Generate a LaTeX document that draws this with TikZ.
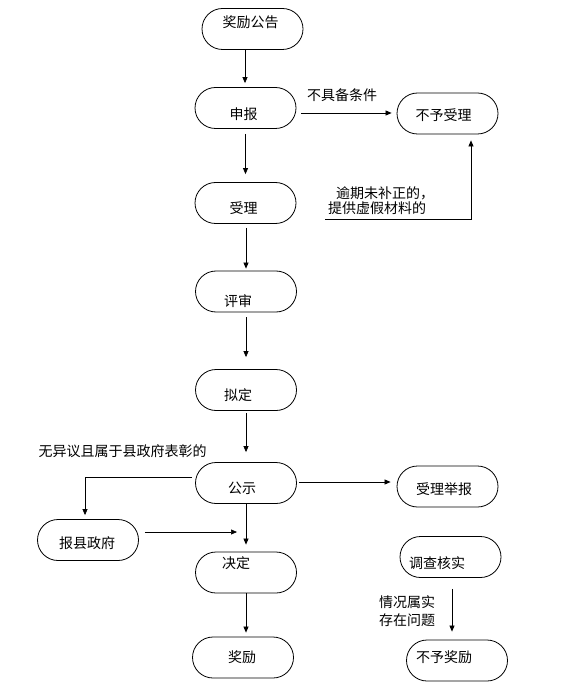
\documentclass[tikz,border=0pt]{standalone}
\usepackage{fontspec}
\newfontfamily\cjk{Noto Sans CJK SC}
\usetikzlibrary{shapes.misc,arrows.meta}
\begin{document}
\begin{tikzpicture}[x=1pt,y=-1pt,
  term/.style={draw,line width=0.8pt,rounded rectangle,minimum width=101pt,minimum height=41pt,inner sep=0pt},
  txt/.style={font=\cjk\fontsize{14}{16}\selectfont,inner sep=0pt},
  arr/.style={line width=0.7pt,-{Triangle[length=6pt,width=5pt]}},
  ln/.style={line width=0.7pt}]
\useasboundingbox (0,0) rectangle (584,700);
% main column
\node[term,label={[txt,xshift=-2pt,yshift=7pt]center:奖励公告}] (n1) at (252.5,29) {};
\node[term,label={[txt,xshift=-2pt,yshift=-6pt]center:申报}] (n2) at (245.5,108) {};
\node[term,label={[txt,xshift=-2pt,yshift=-5pt]center:受理}] (n3) at (245.5,203) {};
\node[term,label={[txt,xshift=-8pt,yshift=-10pt]center:评审}] (n4) at (246,291.5) {};
\node[term,label={[txt,xshift=-8pt,yshift=-5pt]center:拟定}] (n5) at (246,390) {};
\node[term,label={[txt,xshift=-4pt,yshift=-5pt]center:公示}] (n6) at (246,483) {};
\node[term,label={[txt,xshift=-10pt,yshift=9pt]center:决定}] (n8) at (246,572.5) {};
\node[term,label={[txt,xshift=-1pt,yshift=0pt]center:奖励}] (n9) at (243,657.5) {};
% side nodes
\node[term,label={[txt,xshift=-1pt,yshift=-3pt]center:报县政府}] (n7) at (88,540) {};
\node[term,label={[txt,xshift=-4pt,yshift=-2pt]center:不予受理}] (n10) at (447.5,113.5) {};
\node[term,label={[txt,xshift=-3.5pt,yshift=-2.5pt]center:受理举报}] (n11) at (447.5,486.5) {};
\node[term,label={[txt,xshift=-13.5pt,yshift=-6pt]center:调查核实}] (n12) at (450.5,557) {};
\node[term,label={[txt,xshift=-13pt,yshift=3.5pt]center:不予奖励}] (n13) at (457,660.5) {};
% labels
\node[txt] (l1) at (342,95) {不具备条件};
\node[txt,anchor=west] (l2) at (336,193) {逾期未补正的，};
\node[txt,anchor=west] (l3) at (328,208) {提供虚假材料的};
\node[txt] (l4) at (122.5,451) {无异议且属于县政府表彰的};
\node[txt,anchor=west] (l5) at (379,602) {情况属实};
\node[txt,anchor=west] (l6) at (379,620) {存在问题};
% connectors
\draw[arr,shorten >=4pt] ([xshift=-7.5pt]n1.south) -- ([xshift=-7.5pt]n1.south |- n2.north);
\draw[arr,shorten <=5pt,shorten >=8pt] (n2.south) -- (n2.south |- n3.north);
\draw[arr,shorten <=4pt,shorten >=2pt] ([xshift=0.5pt]n3.south) -- ([xshift=0.5pt]n3.south |- n4.north);
\draw[arr,shorten <=5pt,shorten >=12pt] (n4.south) -- (n5.north);
\draw[arr,shorten <=2pt,shorten >=10pt] (n5.south) -- (n6.north);
\draw[arr,shorten >=7pt] (n6.south) -- (n8.north);
\draw[arr,shorten >=4pt] (n8.south) -- ([xshift=3pt]n9.north);
\draw[arr,shorten <=5pt,shorten >=5pt] ([yshift=-5pt]n2.east) -- ([yshift=-5pt]n2.east -| n10.west);
\coordinate (c1) at (325,219);
\draw[arr,shorten >=6pt] (c1) -| ([xshift=23.5pt]n10.south);
\draw[arr,shorten <=3pt,shorten >=4pt] ([yshift=6pt]n6.west) -| ([xshift=-3pt]n7.north);
\coordinate (c2) at (237,532);
\draw[arr,shorten <=6pt] ([yshift=8pt]n7.east) -- (c2);
\draw[arr,shorten <=2pt,shorten >=6pt] ([yshift=1pt]n6.east) -- ([yshift=1pt]n6.east -| n11.west);
\draw[arr,shorten <=11pt,shorten >=8pt] ([xshift=1.5pt]n12.south) -- ([xshift=1.5pt]n12.south |- n13.north);
\end{tikzpicture}
\end{document}
